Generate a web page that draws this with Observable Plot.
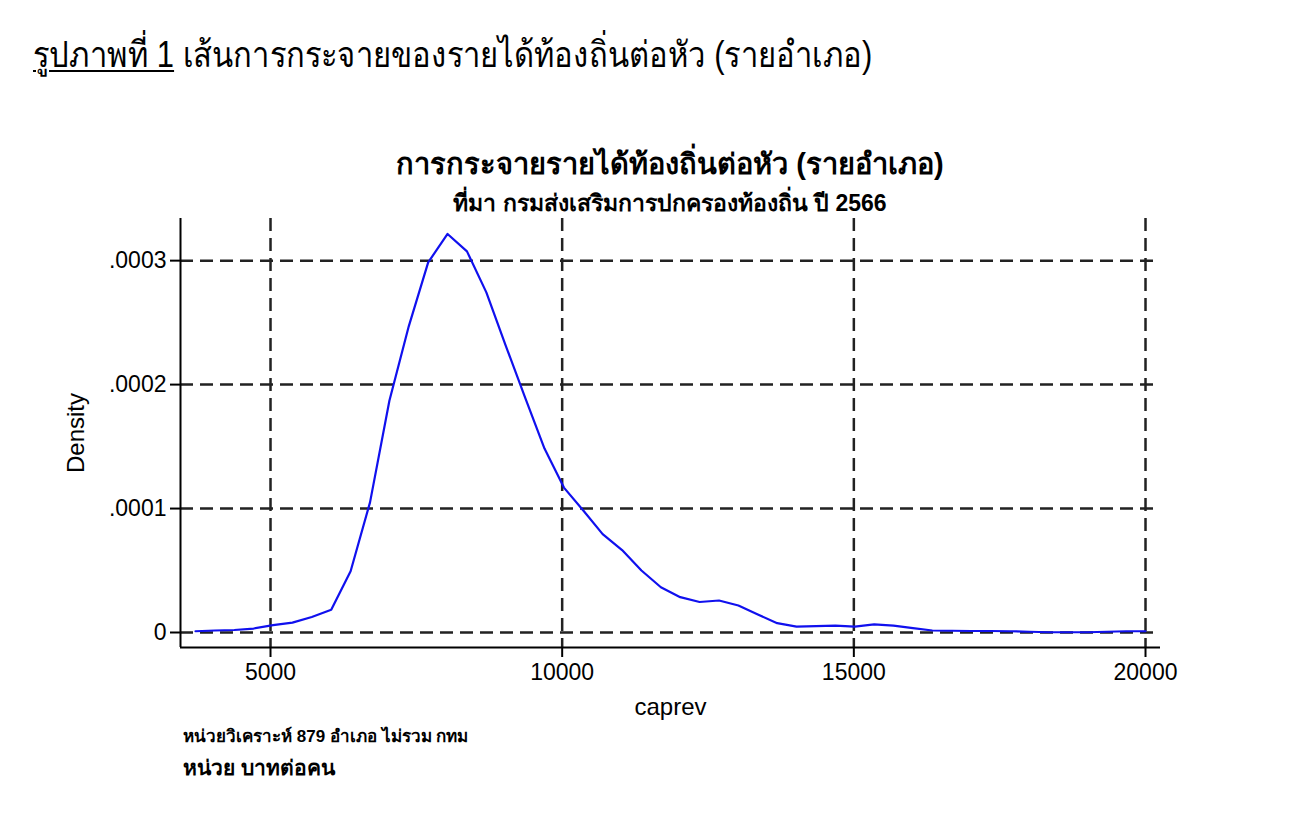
<!DOCTYPE html>
<html>
<head>
<meta charset="utf-8">
<script src="https://cdn.jsdelivr.net/npm/d3@7"></script>
<script src="https://cdn.jsdelivr.net/npm/@observablehq/plot@0.6"></script>
<style>
  html, body { margin: 0; padding: 0; background: #fff; }
  body { width: 1314px; height: 819px; position: relative; overflow: hidden; font-family: "Liberation Sans", "Noto Sans", sans-serif; color: #000; }
  .t { position: absolute; white-space: nowrap; z-index: 2; }
  #pageTitle { left: 33px; top: 26px; font-size: 36px; transform: scaleX(0.86); transform-origin: 0 0; }
  #pageTitle u { text-decoration-thickness: 2px; text-underline-offset: 3px; }
  #chartTitle { left: 0; width: 1340px; text-align: center; top: 141px; font-size: 29px; font-weight: bold; }
  #chartSub { left: 0; width: 1340px; text-align: center; top: 185px; font-size: 23px; font-weight: bold; }
  #note1 { left: 183px; top: 722px; font-size: 17px; font-weight: bold; }
  #note2 { left: 183px; top: 751px; font-size: 21px; font-weight: bold; }
  #chart { position: absolute; left: 0; top: 200px; z-index: 1; }
  #chart svg { background: transparent !important; }
</style>
</head>
<body>
<div class="t" id="pageTitle"><u>รูปภาพที่ 1</u> เส้นการกระจายของรายได้ท้องถิ่นต่อหัว (รายอำเภอ)</div>
<div class="t" id="chartTitle">การกระจายรายได้ท้องถิ่นต่อหัว (รายอำเภอ)</div>
<div class="t" id="chartSub">ที่มา กรมส่งเสริมการปกครองท้องถิ่น ปี 2566</div>
<div id="chart"></div>
<div class="t" id="note1">หน่วยวิเคราะห์ 879 อำเภอ ไม่รวม กทม</div>
<div class="t" id="note2">หน่วย บาทต่อคน</div>
<script>
// kernel density of per-capita local revenue (caprev), evaluated on 50 points
const caprev = [3714, 4046, 4379, 4711, 5044, 5376, 5708, 6041, 6373, 6706,
  7038, 7370, 7703, 8035, 8368, 8700, 9032, 9365, 9697, 10030,
  10362, 10694, 11027, 11359, 11692, 12024, 12356, 12689, 13021, 13354,
  13686, 14018, 14351, 14683, 15016, 15348, 15680, 16013, 16345, 16678,
  17010, 17342, 17675, 18007, 18340, 18672, 19004, 19337, 19669, 20000];
const density = [0.0000010, 0.0000016, 0.0000020, 0.0000032, 0.0000060, 0.0000080, 0.0000125, 0.0000183, 0.0000494, 0.0001050,
  0.0001870, 0.0002470, 0.0002986, 0.0003215, 0.0003075, 0.0002744, 0.0002315, 0.0001895, 0.0001484, 0.0001169,
  0.0000984, 0.0000794, 0.0000665, 0.0000500, 0.0000365, 0.0000285, 0.0000246, 0.0000258, 0.0000218, 0.0000145,
  0.0000075, 0.0000048, 0.0000052, 0.0000056, 0.0000048, 0.0000065, 0.0000056, 0.0000036, 0.0000016, 0.0000014,
  0.0000012, 0.0000012, 0.0000010, 0.0000006, 0.0000002, 0.0000002, 0.0000002, 0.0000006, 0.0000010, 0.0000010];
const xTicks = [5000, 10000, 15000, 20000];
const yTicks = [0, 0.0001, 0.0002, 0.0003];
const xLabel = "caprev";
const yLabel = "Density";

const data = caprev.map((x, i) => ({x, y: density[i]}));
const xDomain = [3457, 20257];
const yDomain = [-0.0000121, 0.000334];
const yFmt = d => d === 0 ? "0" : String(d).replace(/^0\./, ".");

const chart = Plot.plot({
  width: 1314,
  height: 560,
  marginLeft: 180,
  marginRight: 154,
  marginTop: 18,
  marginBottom: 113,
  style: {fontFamily: "'Liberation Sans', Arial, sans-serif", background: "transparent", color: "#000"},
  x: {domain: xDomain},
  y: {domain: yDomain},
  marks: [
    Plot.ruleY(yTicks, {stroke: "#222", strokeWidth: 2.5, strokeDasharray: "13,7"}),
    Plot.ruleX(xTicks, {stroke: "#222", strokeWidth: 2.5, strokeDasharray: "13,7"}),
    Plot.line(data, {x: "x", y: "y", stroke: "#1010ee", strokeWidth: 2.2}),
    Plot.ruleX([xDomain[0]], {stroke: "#000", strokeWidth: 2}),
    Plot.ruleY([yDomain[0]], {stroke: "#000", strokeWidth: 2}),
    Plot.axisX({ticks: xTicks, tickFormat: d => String(d), tickSize: 10, tickPadding: 6, fontSize: 23,
      label: xLabel, labelAnchor: "center", labelArrow: "none", labelOffset: 67, strokeWidth: 2}),
    Plot.axisY({ticks: yTicks, tickFormat: yFmt, tickSize: 10, tickPadding: 4, fontSize: 23,
      label: yLabel, labelAnchor: "center", labelArrow: "none", labelOffset: 114, strokeWidth: 2})
  ]
});
chart.querySelectorAll("text").forEach(t => {
  if (t.textContent === xLabel || t.textContent === yLabel) t.style.fontSize = "24px";
});
document.getElementById("chart").appendChild(chart);
</script>
</body>
</html>
